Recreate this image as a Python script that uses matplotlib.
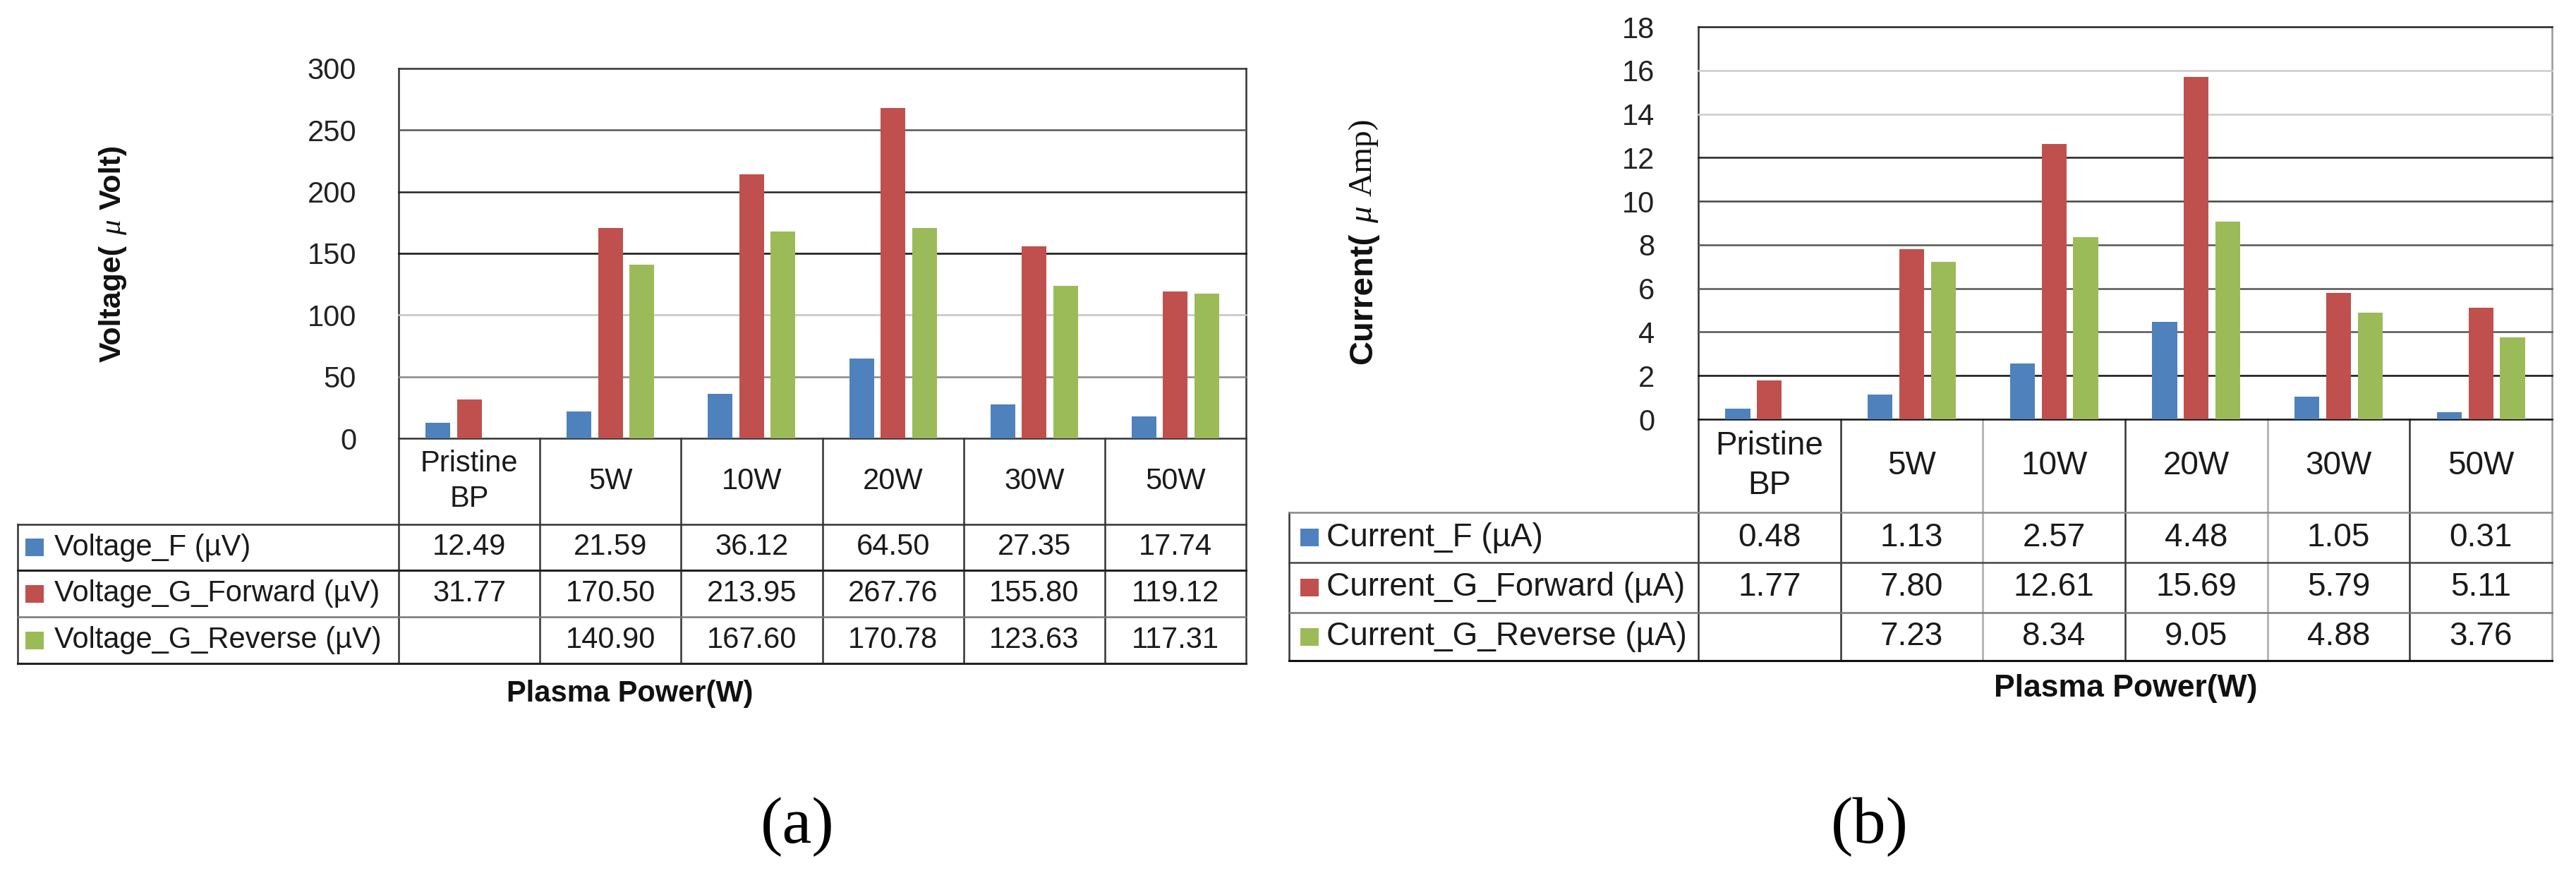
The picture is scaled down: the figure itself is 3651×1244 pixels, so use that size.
import numpy as np
import matplotlib
matplotlib.use("Agg")
import matplotlib.pyplot as plt
from matplotlib.patches import Rectangle

plt.rcParams['font.family'] = ['Liberation Sans', 'DejaVu Sans']

# ---------------- data ----------------
categories = ["Pristine\nBP", "5W", "10W", "20W", "30W", "50W"]

voltage_labels = ["Voltage_F (\u00b5V)", "Voltage_G_Forward (\u00b5V)", "Voltage_G_Reverse (\u00b5V)"]
voltage_F = [12.49, 21.59, 36.12, 64.50, 27.35, 17.74]
voltage_G_forward = [31.77, 170.50, 213.95, 267.76, 155.80, 119.12]
voltage_G_reverse = [np.nan, 140.90, 167.60, 170.78, 123.63, 117.31]
voltage_ticks = [0, 50, 100, 150, 200, 250, 300]

current_labels = ["Current_F (\u00b5A)", "Current_G_Forward (\u00b5A)", "Current_G_Reverse (\u00b5A)"]
current_F = [0.48, 1.13, 2.57, 4.48, 1.05, 0.31]
current_G_forward = [1.77, 7.80, 12.61, 15.69, 5.79, 5.11]
current_G_reverse = [np.nan, 7.23, 8.34, 9.05, 4.88, 3.76]
current_ticks = [0, 2, 4, 6, 8, 10, 12, 14, 16, 18]

xlabel = "Plasma Power(W)"
colors = ["#4F81BD", "#C0504D", "#9BBB59"]

# ---------------- layout ----------------
W, H = 3651, 1244
fig = plt.figure(figsize=(W / 100, H / 100), dpi=100)
ov = fig.add_axes([0, 0, 1, 1])
ov.set_xlim(0, W)
ov.set_ylim(H, 0)
ov.axis('off')
renderer = fig.canvas.get_renderer()

panels = [
    dict(series=[voltage_F, voltage_G_forward, voltage_G_reverse], labels=voltage_labels,
         ticks=voltage_ticks,
         grid_colors=['#333333', '#888888', '#c4c4c4', '#111111', '#222222', '#555555', '#333333'],
         lx0=25, x0=565, x1=1766, ytop=97, ybase=621, hbot=743, rows=[808, 874, 940],
         hcolors=['#333333', '#222222', '#777777', '#222222'],
         vcolors=['#333333'] * 5, rcolor='#333333',
         tick_fs=30, tick_right=505, tab_fs=30, mk_x=36, txt_x=77,
         xl_pos=(893, 983), xl_fs=30,
         ylab=[("Voltage(", dict(fontweight='bold', fontsize=31)),
               ("\u03bc", dict(family='Liberation Serif', fontstyle='italic', fontsize=31)),
               ("Volt)", dict(fontweight='bold', fontsize=31))],
         ylab_x=171, ylab_yc=359, sub="(a)", sub_pos=(1130, 1172)),
    dict(series=[current_F, current_G_forward, current_G_reverse], labels=current_labels,
         ticks=current_ticks,
         grid_colors=['#111111', '#111111', '#555555', '#555555', '#555555', '#444444',
                      '#222222', '#cccccc', '#cccccc', '#222222'],
         lx0=1827, x0=2407, x1=3617, ytop=38, ybase=594, hbot=726, rows=[797, 868, 936],
         hcolors=['#888888', '#444444', '#777777', '#111111'],
         vcolors=['#333333', '#aaaaaa', '#333333', '#aaaaaa', '#333333'], rcolor='#999999',
         tick_fs=30, tick_right=2345, tab_fs=33, mk_x=1843, txt_x=1880,
         xl_pos=(3013, 975), xl_fs=32,
         ylab=[("Current(", dict(fontweight='bold', fontsize=34)),
               ("\u03bc", dict(family='Liberation Serif', fontstyle='italic', fontsize=34)),
               ("Amp)", dict(family='Liberation Serif', fontsize=34))],
         ylab_x=1944, ylab_yc=342, sub="(b)", sub_pos=(2650, 1172)),
]

bar_w = 0.175
offsets = [-0.2225, 0.0, 0.2225]
lw_grid = 1.8

for p in panels:
    x0, x1, ytop, ybase = p['x0'], p['x1'], p['ytop'], p['ybase']
    ax = fig.add_axes([x0 / W, 1 - ybase / H, (x1 - x0) / W, (ybase - ytop) / H])
    ax.patch.set_alpha(0)
    n = len(categories)
    xs = np.arange(n)
    for vals, c, off in zip(p['series'], colors, offsets):
        ax.bar(xs + off, vals, width=bar_w, color=c, zorder=3, linewidth=0)
    for t, gc in zip(p['ticks'], p['grid_colors']):
        ax.axhline(t, color=gc, lw=lw_grid, zorder=1, clip_on=False)
    ax.set_xlim(-0.5, n - 0.5)
    ax.set_ylim(p['ticks'][0], p['ticks'][-1])
    ax.set_xticks([])
    ax.set_yticks(p['ticks'])
    ax.set_yticklabels([str(t) for t in p['ticks']])
    pad_pt = (x0 - p['tick_right']) * 0.72
    ax.tick_params(axis='y', length=0, pad=pad_pt, labelsize=p['tick_fs'], colors='#222222')
    for s in ax.spines.values():
        s.set_visible(False)

    colw = (x1 - x0) / n
    tbot = p['rows'][-1]
    # borders
    ov.plot([x0, x0], [ytop, tbot], color='#333333', lw=lw_grid)
    ov.plot([x1, x1], [ytop, tbot], color=p['rcolor'], lw=lw_grid)
    for k in range(1, n):
        xk = x0 + k * colw
        ov.plot([xk, xk], [ybase, tbot], color=p['vcolors'][k - 1], lw=lw_grid)
    ov.plot([p['lx0'], p['lx0']], [p['hbot'], tbot], color='#333333', lw=lw_grid)
    for yy, hc in zip([p['hbot']] + p['rows'], p['hcolors']):
        ov.plot([p['lx0'], x1], [yy, yy], color=hc, lw=2.2 if hc in ('#111111', '#222222') else lw_grid)

    # header
    for i, cat in enumerate(categories):
        ov.text(x0 + (i + 0.5) * colw, (ybase + p['hbot']) / 2, cat, ha='center', va='center',
                fontsize=p['tab_fs'], linespacing=1.35, color='#1a1a1a')
    # rows
    tops = [p['hbot']] + p['rows'][:-1]
    for r, (vals, lab, c) in enumerate(zip(p['series'], p['labels'], colors)):
        yc = (tops[r] + p['rows'][r]) / 2
        ov.add_patch(Rectangle((p['mk_x'], yc - 12.5), 26, 25, color=c, lw=0))
        ov.text(p['txt_x'], yc, lab, ha='left', va='center', fontsize=p['tab_fs'], color='#1a1a1a')
        for i, v in enumerate(vals):
            if not np.isnan(v):
                ov.text(x0 + (i + 0.5) * colw, yc, f"{v:.2f}", ha='center', va='center',
                        fontsize=p['tab_fs'], color='#1a1a1a')

    # x label
    ov.text(p['xl_pos'][0], p['xl_pos'][1], xlabel, ha='center', va='center',
            fontsize=p['xl_fs'], fontweight='bold', color='#111111')

    # rotated y label built from pieces
    gap = 14
    lengths = []
    for txt, kw in p['ylab']:
        t = ov.text(0, 0, txt, **kw)
        lengths.append(t.get_window_extent(renderer).width)
        t.remove()
    total = sum(lengths) + gap * (len(lengths) - 1)
    y = p['ylab_yc'] + total / 2
    for (txt, kw), L in zip(p['ylab'], lengths):
        ov.text(p['ylab_x'], y, txt, rotation=90, rotation_mode='anchor', ha='left',
                va='baseline', color='#111111', **kw)
        y -= L + gap

    # sub caption
    ov.text(p['sub_pos'][0], p['sub_pos'][1], p['sub'], ha='center', va='center',
            fontsize=68, family='Liberation Serif', color='black')

fig.savefig("out.png", dpi=100)
